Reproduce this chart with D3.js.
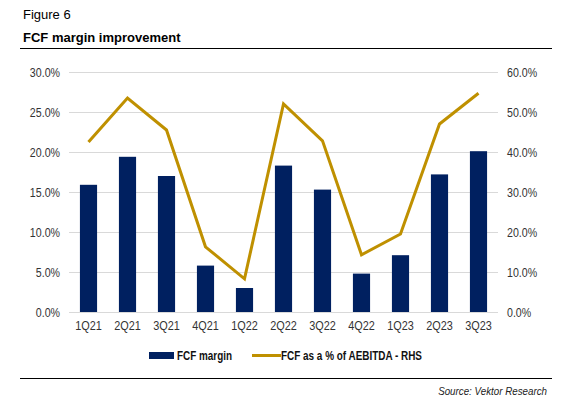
<!DOCTYPE html>
<html>
<head>
<meta charset="utf-8">
<script src="https://cdn.jsdelivr.net/npm/d3@7"></script>
<style>
  body { margin: 0; background: #fff; }
  svg { display: block; font-family: "Liberation Sans", Arial, sans-serif; }
</style>
</head>
<body>
<div id="chart"></div>
<script>
// data
let quarters = ['1Q21', '2Q21', '3Q21', '4Q21', '1Q22', '2Q22', '3Q22', '4Q22', '1Q23', '2Q23', '3Q23'];
let fcfMargin = [15.9, 19.4, 17.0, 5.8, 3.0, 18.3, 15.3, 4.8, 7.1, 17.2, 20.1];
let fcfPctAebitda = [42.5, 53.5, 45.5, 16.3, 8.3, 52.0, 42.8, 14.3, 19.5, 47.0, 54.7];
let leftTicks = [0, 5, 10, 15, 20, 25, 30];
let rightTicks = [0, 10, 20, 30, 40, 50, 60];

const navy = '#002060';
const gold = '#BF9000';

let width = 573, height = 398;
let svg = d3.select('#chart').append('svg')
    .attr('width', width)
    .attr('height', height);

let plot = { left: 69, right: 498, top: 72, bottom: 312 };

// squeeze text horizontally to mimic the narrow chart font
function narrow(sel, k) {
    sel.each(function () {
        let len = this.getComputedTextLength();
        d3.select(this)
            .attr('textLength', len * k)
            .attr('lengthAdjust', 'spacingAndGlyphs');
    });
}

// header
svg.append('text')
    .attr('x', 23).attr('y', 19)
    .attr('font-size', 13)
    .attr('fill', '#000')
    .text('Figure 6');
svg.append('text')
    .attr('x', 23).attr('y', 42)
    .attr('font-size', 13)
    .attr('font-weight', 'bold')
    .attr('fill', '#000')
    .text('FCF margin improvement');
svg.append('line')
    .attr('x1', 20).attr('x2', 552)
    .attr('y1', 48.5).attr('y2', 48.5)
    .attr('stroke', '#000').attr('stroke-width', 1.2);

let x = d3.scaleBand()
    .domain(quarters)
    .range([plot.left, plot.right])
    .paddingInner(0.56)
    .paddingOuter(0.28);

let yL = d3.scaleLinear().domain([0, 30]).range([plot.bottom, plot.top]);
let yR = d3.scaleLinear().domain([0, 60]).range([plot.bottom, plot.top]);

// gridlines
svg.append('g').selectAll('line').data(leftTicks).enter()
    .append('line')
        .attr('x1', plot.left).attr('x2', plot.right)
        .attr('y1', d => Math.round(yL(d)) + 0.5)
        .attr('y2', d => Math.round(yL(d)) + 0.5)
        .attr('stroke', '#d9d9d9')
        .attr('stroke-width', 1);

// left axis
let leftAxis = d3.axisLeft(yL).tickValues(leftTicks)
    .tickFormat(d => d.toFixed(1) + '%').tickSize(0).tickPadding(0);
let gl = svg.append('g').attr('transform', `translate(${plot.left - 9},0)`).call(leftAxis);
gl.select('.domain').remove();
gl.selectAll('text').attr('font-size', 12.5).attr('fill', '#333')
    .style('font-family', '"Liberation Sans", Arial, sans-serif');
narrow(gl.selectAll('text'), 0.85);

// right axis
let rightAxis = d3.axisRight(yR).tickValues(rightTicks)
    .tickFormat(d => d.toFixed(1) + '%').tickSize(0).tickPadding(0);
let gr = svg.append('g').attr('transform', `translate(${plot.right + 9},0)`).call(rightAxis);
gr.select('.domain').remove();
gr.selectAll('text').attr('font-size', 12.5).attr('fill', '#333')
    .style('font-family', '"Liberation Sans", Arial, sans-serif');
narrow(gr.selectAll('text'), 0.85);

// x axis
let xAxis = d3.axisBottom(x).tickSize(0).tickPadding(9);
let gx = svg.append('g').attr('transform', `translate(0,${plot.bottom})`).call(xAxis);
gx.select('.domain').remove();
gx.selectAll('text').attr('font-size', 12.5).attr('fill', '#333')
    .style('font-family', '"Liberation Sans", Arial, sans-serif');
narrow(gx.selectAll('text'), 0.87);

// bars
svg.append('g').selectAll('rect').data(fcfMargin).enter()
    .append('rect')
        .attr('x', (d, i) => x(quarters[i]))
        .attr('y', d => yL(d))
        .attr('width', x.bandwidth())
        .attr('height', d => yL(0) - yL(d))
        .attr('fill', navy);

// line
let line = d3.line()
    .x((d, i) => x(quarters[i]) + x.bandwidth() / 2)
    .y(d => yR(d));
svg.append('path')
    .datum(fcfPctAebitda)
    .attr('d', line)
    .attr('fill', 'none')
    .attr('stroke', gold)
    .attr('stroke-width', 3)
    .attr('stroke-linejoin', 'miter');

// legend
let lg = svg.append('g').attr('font-size', 12).attr('fill', '#111');
lg.append('rect')
    .attr('x', 149).attr('y', 352).attr('width', 25).attr('height', 7)
    .attr('fill', navy);
lg.append('text').attr('x', 177).attr('y', 360).attr('font-weight', 'bold').text('FCF margin');
lg.append('line')
    .attr('x1', 252).attr('x2', 281).attr('y1', 355.5).attr('y2', 355.5)
    .attr('stroke', gold).attr('stroke-width', 3);
lg.append('text').attr('x', 281).attr('y', 360).attr('font-weight', 'bold').text('FCF as a % of AEBITDA - RHS');
lg.selectAll('text').each(function () {
    d3.select(this).attr('textLength', this.textContent === 'FCF margin' ? 55 : 141)
        .attr('lengthAdjust', 'spacingAndGlyphs');
});

// footer
svg.append('line')
    .attr('x1', 20).attr('x2', 552)
    .attr('y1', 378.5).attr('y2', 378.5)
    .attr('stroke', '#000').attr('stroke-width', 1.2);
let src = svg.append('text')
    .attr('x', 547).attr('y', 395)
    .attr('text-anchor', 'end')
    .attr('font-size', 11.5)
    .attr('font-style', 'italic')
    .attr('fill', '#222')
    .text('Source: Vektor Research');
narrow(src, 0.85);
</script>
</body>
</html>
